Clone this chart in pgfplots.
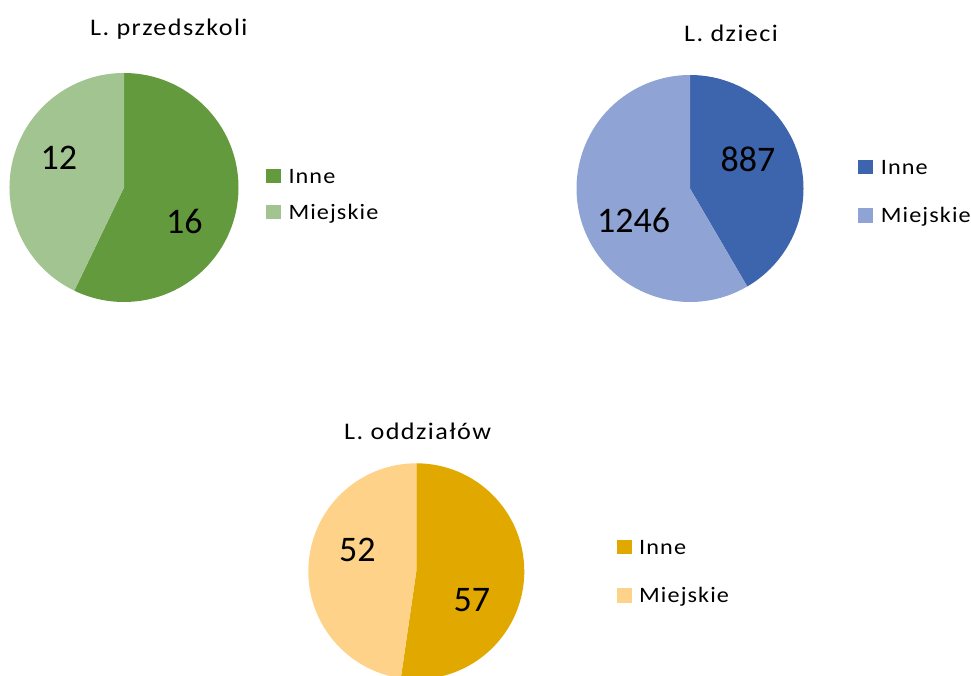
\documentclass[border=0pt]{standalone}
\usepackage{pgfplots}
\pgfplotsset{compat=1.18}
\usepackage{pgfplotstable}
\usepackage{fontspec}
\setmainfont{Carlito}
\newfontfamily\wideT[FakeStretch=1.1,LetterSpace=6]{Carlito}
\newfontfamily\wideL[FakeStretch=1.1,LetterSpace=5]{Carlito}
\definecolor{gA}{RGB}{98,154,61}
\definecolor{gB}{RGB}{162,196,145}
\definecolor{bA}{RGB}{61,101,173}
\definecolor{bB}{RGB}{143,164,213}
\definecolor{oA}{RGB}{225,169,0}
\definecolor{oB}{RGB}{255,210,138}
\newcommand\ttl{\wideT\fontsize{23.8}{27}\selectfont}
\newcommand\lgd{\wideL\fontsize{22}{25}\selectfont}
\newcommand\lbl{\fontsize{36}{40}\selectfont}
\pgfplotstableread{
id inne miejskie
0 16 12
1 887 1246
2 57 52
}\piedata
\pgfplotstablegetelem{0}{inne}\of\piedata\let\pAi\pgfplotsretval
\pgfplotstablegetelem{0}{miejskie}\of\piedata\let\pAm\pgfplotsretval
\pgfplotstablegetelem{1}{inne}\of\piedata\let\pBi\pgfplotsretval
\pgfplotstablegetelem{1}{miejskie}\of\piedata\let\pBm\pgfplotsretval
\pgfplotstablegetelem{2}{inne}\of\piedata\let\pCi\pgfplotsretval
\pgfplotstablegetelem{2}{miejskie}\of\piedata\let\pCm\pgfplotsretval
\pgfmathsetmacro\angA{90-360*(\pAi/(\pAi+\pAm))}
\pgfmathsetmacro\angB{90-360*(\pBi/(\pBi+\pBm))}
\pgfmathsetmacro\angC{90-360*(\pCi/(\pCi+\pCm))}
\begin{document}%
\begin{tikzpicture}
\useasboundingbox (0pt,0pt) rectangle (971pt,675pt);
\begin{axis}[
  at={(0pt,0pt)}, anchor=origin,
  scale only axis, width=971pt, height=675pt,
  xmin=0, xmax=971, ymin=0, ymax=675, enlargelimits=false,
  hide axis, clip mode=global,
]
% pie 1
\fill[gA] (axis cs:124,487.5) -- ++(90:114.5pt) arc[start angle=90, end angle=\angA, radius=114.5pt] -- cycle;
\fill[gB] (axis cs:124,487.5) -- ++(\angA:114.5pt) arc[start angle=\angA, end angle=-270, radius=114.5pt] -- cycle;
% pie 2
\fill[bA] (axis cs:690,486.5) -- ++(90:113.5pt) arc[start angle=90, end angle=\angB, radius=113.5pt] -- cycle;
\fill[bB] (axis cs:690,486.5) -- ++(\angB:113.5pt) arc[start angle=\angB, end angle=-270, radius=113.5pt] -- cycle;
% pie 3
\fill[oA] (axis cs:416.3,103.7) -- ++(90:108pt) arc[start angle=90, end angle=\angC, radius=108pt] -- cycle;
\fill[oB] (axis cs:416.3,103.7) -- ++(\angC:108pt) arc[start angle=\angC, end angle=-270, radius=108pt] -- cycle;
% titles
\node[anchor=base west, inner sep=0pt] at (axis cs:90,639.3) {\ttl L. przedszkoli};
\node[anchor=base west, inner sep=0pt] at (axis cs:684,633.3) {\ttl L. dzieci};
\node[anchor=base west, inner sep=0pt] at (axis cs:344,236) {\ttl L. oddziałów};
% data labels
\node[anchor=base west, inner sep=0pt] at (axis cs:40.5,505.7) {\lbl \pAm};
\node[anchor=base west, inner sep=0pt] at (axis cs:166,441.7) {\lbl \pAi};
\node[anchor=base west, inner sep=0pt] at (axis cs:720.5,503.3) {\lbl \pBi};
\node[anchor=base west, inner sep=0pt] at (axis cs:597,442.7) {\lbl \pBm};
\node[anchor=base west, inner sep=0pt] at (axis cs:339,114) {\lbl \pCm};
\node[anchor=base west, inner sep=0pt] at (axis cs:453.5,64) {\lbl \pCi};
% legends
\fill[gA] (axis cs:266,491.7) rectangle (axis cs:280.7,505.7);
\fill[gB] (axis cs:266,455.7) rectangle (axis cs:280.7,470);
\node[anchor=base west, inner sep=0pt] at (axis cs:288.3,491.0) {\lgd Inne};
\node[anchor=base west, inner sep=0pt] at (axis cs:288.3,455.7) {\lgd Miejskie};
\fill[bA] (axis cs:858.3,500.7) rectangle (axis cs:872.7,515);
\fill[bB] (axis cs:858.3,452.3) rectangle (axis cs:872.7,466.7);
\node[anchor=base west, inner sep=0pt] at (axis cs:880.7,500.7) {\lgd Inne};
\node[anchor=base west, inner sep=0pt] at (axis cs:880.7,452.3) {\lgd Miejskie};
\fill[oA] (axis cs:617.3,120.7) rectangle (axis cs:631.7,135);
\fill[oB] (axis cs:617.3,72.3) rectangle (axis cs:631.7,86.7);
\node[anchor=base west, inner sep=0pt] at (axis cs:639,120.7) {\lgd Inne};
\node[anchor=base west, inner sep=0pt] at (axis cs:639,72.3) {\lgd Miejskie};
\end{axis}
\end{tikzpicture}%
\end{document}
